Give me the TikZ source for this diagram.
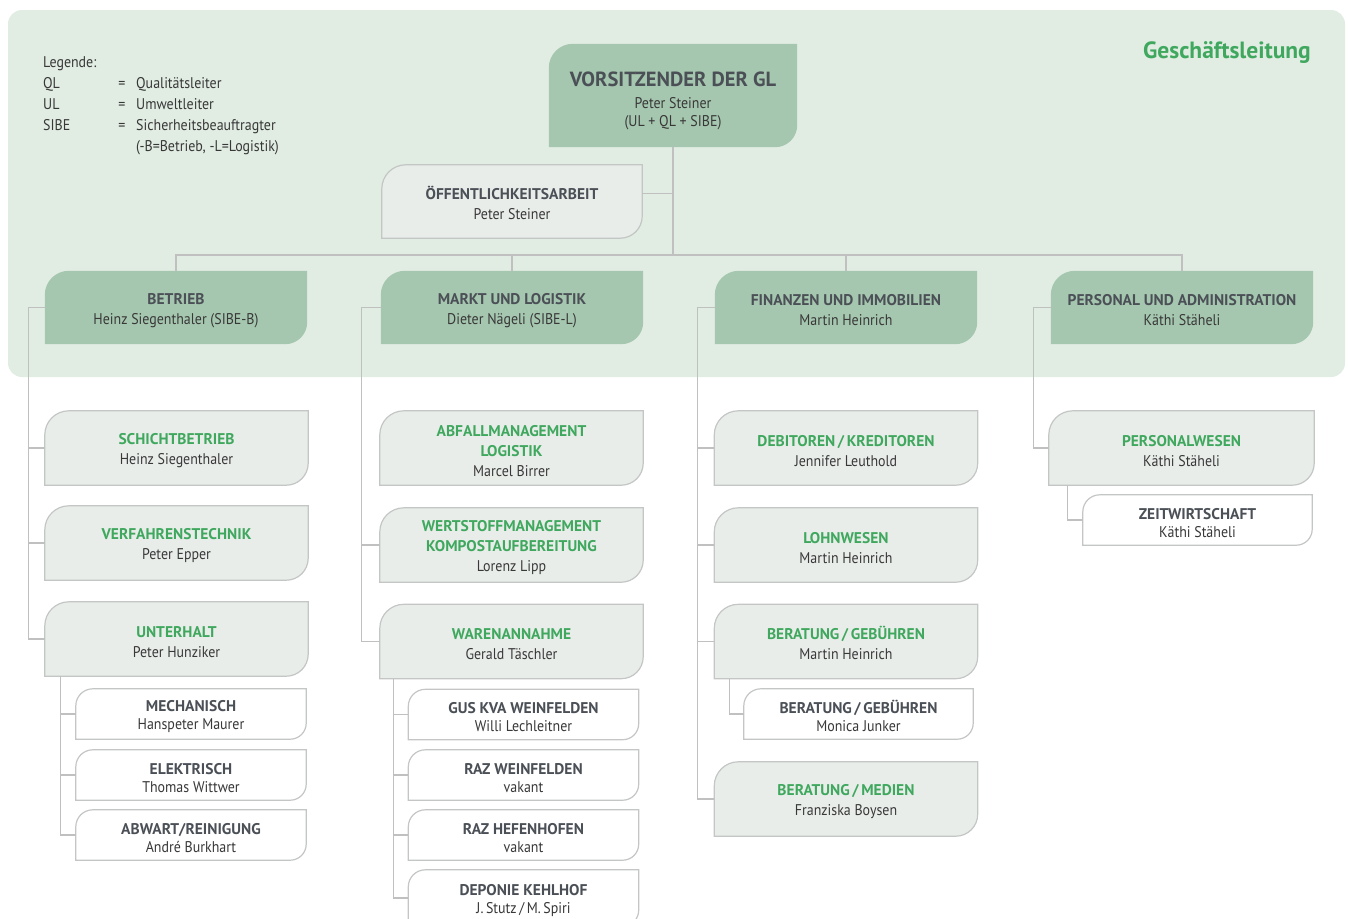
\documentclass[tikz,border=0pt]{standalone}
\usepackage{fontspec}
\setmainfont{PT Sans}[FakeStretch=0.9, BoldFeatures={FakeStretch=1.0}]
\usetikzlibrary{calc}

\pgfdeclarelayer{bg}
\pgfsetlayers{bg,main}

\definecolor{panelfill}{HTML}{E1ECE3}
\definecolor{boxgreen}{HTML}{A6C7AF}
\definecolor{boxgray}{HTML}{E9EDEA}
\definecolor{boxline}{HTML}{C3C6C4}
\definecolor{wirecol}{HTML}{C0C0C0}
\definecolor{titledark}{HTML}{4B5057}
\definecolor{titlegreen}{HTML}{3FA85E}
\definecolor{nametext}{HTML}{383838}

% titles; the strut pushes the text block a little down
\newcommand\hdd[1]{\rule{0pt}{17pt}{\bfseries\color{titledark}#1}}
\newcommand\hdg[1]{\rule{0pt}{17pt}{\bfseries\color{titlegreen}#1}}
% box outline: round top left (#2) and bottom right (#3)
\newcommand\boxpath[3]{(#1.south west) -- ([yshift=-#2]#1.north west)
  arc[start angle=180, end angle=90, radius=#2] -- (#1.north east) -- ([yshift=#3]#1.south east)
  arc[start angle=0, end angle=-90, radius=#3] -- cycle}

\tikzset{
  unit/.style={align=center, inner sep=0pt, text=nametext, font=\fontsize{15.5}{20}\selectfont},
  lvtwo/.style={unit, minimum width=262pt, minimum height=73pt},
  lvthree/.style={unit, minimum width=263pt, minimum height=74pt},
  lvfour/.style={unit, minimum width=230pt, minimum height=50pt, font=\fontsize{15.5}{18}\selectfont},
  legend/.style={inner sep=0pt, text=nametext, font=\fontsize{15.5}{18}\selectfont},
  wire/.style={draw=wirecol, line width=1.3pt},
}

\begin{document}
\begin{tikzpicture}[x=1pt, y=-1pt]
\useasboundingbox (0,0) rectangle (1348,918);

\begin{pgfonlayer}{bg}
\fill[panelfill, rounded corners=14pt] (8,10) rectangle (1345,377);
\end{pgfonlayer}

% legend
\node[legend, anchor=base west] (leg) at (43,67) {Legende:};
\foreach \ab/\tx [count=\i] in {QL/Qualitätsleiter, UL/Umweltleiter, SIBE/Sicherheitsbeauftragter}{
  \node[legend, anchor=base west] (ab\i) at (43,{67+21*\i}) {\ab};
  \node[legend, anchor=base] (eq\i) at (122,{67+21*\i}) {=};
  \node[legend, anchor=base west] (tx\i) at (136,{67+21*\i}) {\tx};
}
\node[legend, anchor=base west] (tx4) at (136,151) {(-B=Betrieb, -L=Logistik)};

\node[anchor=base east, inner sep=0pt, text=titlegreen, font=\fontsize{23.5}{26}\selectfont\bfseries] (gl) at (1311,58) {Geschäftsleitung};

% top
\node[lvtwo, minimum width=248pt, minimum height=103pt, font=\fontsize{15.5}{18}\selectfont] (vors) at (673,95.5)
  {\rule{0pt}{25pt}{\fontsize{20.5}{22}\selectfont\bfseries\color{titledark}VORSITZENDER DER GL}\\[4pt]Peter Steiner\\(UL + QL + SIBE)};
\node[lvtwo, minimum width=260pt] (oeff) at (512,201.5) {\hdd{ÖFFENTLICHKEITSARBEIT}\\Peter Steiner};

% departments
\node[lvtwo] (betr) at (176,307.5) {\hdd{BETRIEB}\\Heinz Siegenthaler (SIBE-B)};
\node[lvtwo] (markt) at (512,307.5) {\hdd{MARKT UND LOGISTIK}\\Dieter Nägeli (SIBE-L)};
\node[lvtwo] (fin) at (846,307.5) {\hdd{FINANZEN UND IMMOBILIEN}\\Martin Heinrich};
\node[lvtwo] (pers) at (1182,307.5) {\hdd{PERSONAL UND ADMINISTRATION}\\Käthi Stäheli};

% Betrieb
\node[lvthree] (schicht) at (176.5,448) {\hdg{SCHICHTBETRIEB}\\Heinz Siegenthaler};
\node[lvthree] (verf) at (176.5,543) {\hdg{VERFAHRENSTECHNIK}\\Peter Epper};
\node[lvthree] (unter) at (176.5,639) {\hdg{UNTERHALT}\\Peter Hunziker};
\node[lvfour] (mech) at (191,714) {\hdd{MECHANISCH}\\Hanspeter Maurer};
\node[lvfour] (elek) at (191,775) {\hdd{ELEKTRISCH}\\Thomas Wittwer};
\node[lvfour] (abw) at (191,835) {\hdd{ABWART/REINIGUNG}\\André Burkhart};

% Markt und Logistik
\node[lvthree] (abfall) at (511.5,448) {\hdg{ABFALLMANAGEMENT}\\\hdg{LOGISTIK}\\Marcel Birrer};
\node[lvthree] (wert) at (511.5,545) {\hdg{WERTSTOFFMANAGEMENT}\\\hdg{KOMPOSTAUFBEREITUNG}\\Lorenz Lipp};
\node[lvthree] (waren) at (511.5,641.5) {\hdg{WARENANNAHME}\\Gerald Täschler};
\node[lvfour] (gus) at (523.5,714.5) {\hdd{GUS KVA WEINFELDEN}\\Willi Lechleitner};
\node[lvfour] (razw) at (523.5,775) {\hdd{RAZ WEINFELDEN}\\vakant};
\node[lvfour] (razh) at (523.5,835) {\hdd{RAZ HEFENHOFEN}\\vakant};
\node[lvfour, minimum height=56pt] (dep) at (523.5,898) {\hdd{DEPONIE KEHLHOF}\\J.\,Stutz\,/\,M.\,Spiri};

% Finanzen und Immobilien
\node[lvthree] (debit) at (846,448) {\hdg{DEBITOREN\,/\,KREDITOREN}\\Jennifer Leuthold};
\node[lvthree] (lohn) at (846,545) {\hdg{LOHNWESEN}\\Martin Heinrich};
\node[lvthree] (berg) at (846,641.5) {\hdg{BERATUNG\,/\,GEBÜHREN}\\Martin Heinrich};
\node[lvfour, minimum width=229pt] (bergm) at (858.5,714) {\hdd{BERATUNG\,/\,GEBÜHREN}\\Monica Junker};
\node[lvthree] (bermed) at (846,799) {\hdg{BERATUNG\,/\,MEDIEN}\\Franziska Boysen};

% Personal und Administration
\node[lvthree, minimum width=265pt] (perswes) at (1181.5,448) {\hdg{PERSONALWESEN}\\Käthi Stäheli};
\node[lvfour, minimum width=229pt] (zeit) at (1197.5,520) {\hdd{ZEITWIRTSCHAFT}\\Käthi Stäheli};

% box shapes
\begin{pgfonlayer}{bg}
\foreach \n in {vors,betr,markt,fin,pers}
  \fill[boxgreen] \boxpath{\n}{24pt}{22pt};
\foreach \n in {oeff,schicht,verf,unter,abfall,wert,waren,debit,lohn,berg,bermed,perswes}
  \filldraw[fill=boxgray, draw=boxline, line width=1.2pt] \boxpath{\n}{24pt}{22pt};
\foreach \n in {mech,elek,abw,gus,razw,razh,dep,bergm,zeit}
  \filldraw[fill=white, draw=boxline, line width=1.2pt] \boxpath{\n}{17pt}{16pt};
\end{pgfonlayer}

% connectors
\coordinate (bus) at (673,255);
\draw[wire] (vors.south) -- (bus);
\draw[wire] ([yshift=8]oeff.east) -- ([yshift=8]oeff.east -| vors.south);
\foreach \n in {betr,markt,fin,pers}
  \draw[wire] (\n.north) |- (bus);

\draw[wire] (betr.west) -- ++(-16,0) coordinate (betrcol) |- (unter.west);
\foreach \c in {schicht,verf}
  \draw[wire] (betrcol |- \c.west) -- (\c.west);
\draw[wire] ([xshift=16]unter.south west) coordinate (untercol) |- (abw.west);
\foreach \c in {mech,elek}
  \draw[wire] (untercol |- \c.west) -- (\c.west);

\draw[wire] (markt.west) -- ++(-19,0) coordinate (marktcol) |- (waren.west);
\draw[wire] (marktcol |- wert.west) -- (wert.west);
\draw[wire] ([xshift=14]waren.south west) coordinate (warencol) |- (dep.west);
\foreach \c in {gus,razw,razh}
  \draw[wire] (warencol |- \c.west) -- (\c.west);

\draw[wire] (fin.west) -- ++(-17,0) coordinate (fincol) |- (bermed.west);
\foreach \c in {debit,lohn,berg}
  \draw[wire] (fincol |- \c.west) -- (\c.west);
\draw[wire] ([xshift=15]berg.south west) |- (bergm.west);

\draw[wire] (pers.west) -- ++(-17,0) |- (perswes.west);
\draw[wire] ([xshift=19]perswes.south west) |- (zeit.west);

\end{tikzpicture}
\end{document}
